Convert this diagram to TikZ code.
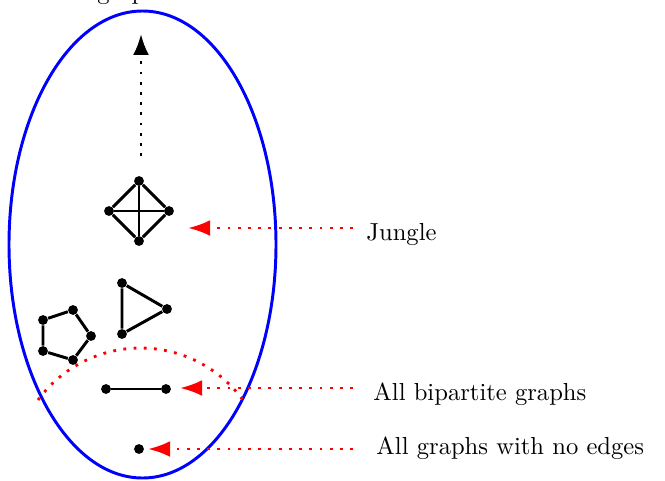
\documentclass[tikz,border=0pt]{standalone}
\usetikzlibrary{arrows.meta}
\begin{document}
\begin{tikzpicture}[x=0.4065pt,y=-0.4065pt,
  vtx/.style={circle,fill=black,inner sep=0pt,minimum size=4pt},
  gedge/.style={line width=1.2pt,black},
  dotline/.style={line width=1.15pt,dash pattern=on 1.15pt off 3pt},
  redtip/.style={-{Latex[length=9pt,width=6.5pt]}},
  blacktip/.style={-{Latex[length=8.5pt,width=6.5pt]}},
  lbl/.style={anchor=base west,inner sep=0pt}]
\useasboundingbox (0,0) rectangle (665,480);

% top label (mostly cut off, as in the reference)
\node[lbl] (toplbl) at (56.5,-0.5) {All graphs};

% enclosing ellipse
\draw[blue,line width=1.2pt] (142.5,244.5) ellipse [x radius=133.5,y radius=233.5];

% upward dotted arrow
\coordinate (upstart) at (141,156);
\coordinate (uptip) at (141,34);
\draw[dotline,black,blacktip] (upstart) -- (uptip);

% K4
\node[vtx] (k1) at (139,181) {};
\node[vtx] (k2) at (109,211) {};
\node[vtx] (k3) at (169,211) {};
\node[vtx] (k4) at (139,241) {};
\draw[gedge] (k1) -- (k2) -- (k4) -- (k3) -- (k1);
\draw[gedge] (k1) -- (k4);
\draw[gedge] (k2) -- (k3);

% triangle
\node[vtx] (t1) at (122,283) {};
\node[vtx] (t2) at (167,309) {};
\node[vtx] (t3) at (122,334) {};
\draw[gedge] (t1) -- (t2) -- (t3) -- (t1);

% pentagon
\node[vtx] (p1) at (43,320) {};
\node[vtx] (p2) at (73,310) {};
\node[vtx] (p3) at (91,336) {};
\node[vtx] (p4) at (73,360) {};
\node[vtx] (p5) at (43,351) {};
\draw[gedge] (p1) -- (p2) -- (p3) -- (p4) -- (p5) -- (p1);

% single edge
\node[vtx] (e1) at (106,389) {};
\node[vtx] (e2) at (166,389) {};
\draw[gedge] (e1) -- (e2);

% single vertex
\node[vtx] (v1) at (139,449) {};

% red dotted arc (bipartite boundary)
\coordinate (arcstart) at (38,400);
\draw[dotline,red] (arcstart) arc[start angle=216.2,end angle=323.8,radius=127];

% labels
\node[lbl] (jungle) at (366,240) {Jungle};
\node[lbl] (bip) at (373,400) {All bipartite graphs};
\node[lbl] (noedge) at (376,454) {All graphs with no edges};

% red arrows
\coordinate (js) at (353,228);
\coordinate (jt) at (188,228);
\draw[dotline,red,redtip] (js) -- (jt);
\coordinate (bs) at (353,388);
\coordinate (bt) at (180,388);
\draw[dotline,red,redtip] (bs) -- (bt);
\coordinate (ns) at (353,449);
\coordinate (nt) at (148,449);
\draw[dotline,red,redtip] (ns) -- (nt);
\end{tikzpicture}
\end{document}
